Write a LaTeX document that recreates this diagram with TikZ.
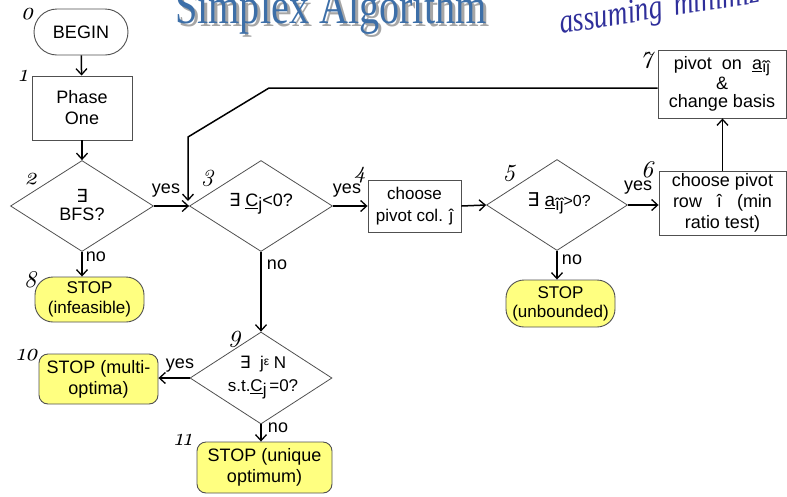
\documentclass[tikz,border=0pt]{standalone}
\usepackage{fontspec}
\setmainfont{Liberation Sans}
\newfontfamily\serifA{Liberation Serif}
\newfontfamily\dejavu{DejaVu Sans}
\newfontfamily\numfont{lmroman10-italic}[Extension=.otf,Numbers=OldStyle]
\usetikzlibrary{shapes.geometric,arrows.meta}
\definecolor{stopyellow}{HTML}{FFFF80}
\definecolor{titleblue}{HTML}{3D6FA8}
\definecolor{subblue}{HTML}{2E2E9A}
\definecolor{edgegray}{HTML}{505050}
\newcommand{\ex}{{\dejavu ∃}}
\tikzset{
 txtbase/.style={font=\fontsize{18}{21}\selectfont, align=center, inner sep=0pt},
 box/.style={txtbase, draw=edgegray, line width=0.9pt, fill=white},
 stopbox/.style={box, fill=stopyellow, rounded corners=#1},
 stopbox/.default=10pt,
 dia/.style={draw=edgegray, line width=0.8pt, shape=diamond, inner sep=0pt},
 num/.style={font=\fontsize{24}{24}\selectfont\numfont, inner sep=0pt},
 conn/.style={line width=1.5pt, -{Straight Barb[length=6pt,width=11pt,line width=1.3pt]}},
}
\begin{document}
\begin{tikzpicture}[x=1pt,y=-1pt]
\useasboundingbox (0,0) rectangle (787,496);
\clip (0,0) rectangle (787,496);
% title
\node[anchor=base west, inner sep=0pt, text=black!35, font=\fontsize{39}{39}\selectfont\serifA] (titleshadow) at (178,26) {\scalebox{1.03}[1.3]{Simplex Algorithm}};
\node[anchor=base west, inner sep=0pt, text=titleblue, font=\fontsize{39}{39}\selectfont\serifA] (title) at (175,23) {\scalebox{1.03}[1.3]{Simplex Algorithm}};
\node[anchor=base west, inner sep=0pt, rotate=9, text=subblue, font=\fontsize{29}{29}\selectfont\serifA\itshape] (subtitle) at (561,34) {\scalebox{0.95}[1.2]{assuming\, minimiz}};
% nodes
\node[box, rounded corners=23pt, minimum width=94, minimum height=46] (b0) at (81,32) {BEGIN};
\node[box, minimum width=100, minimum height=64] (b1) at (82,108) {Phase\\One};
\node[dia, minimum width=143, minimum height=91] (d2) at (82,206) {};
\node[txtbase, font=\fontsize{18}{18}\selectfont] (d2t) at (82,205) {\ex\\BFS?};
\node[dia, minimum width=143, minimum height=91] (d3) at (261,206) {};
\node[txtbase] (d3t) at (261,204) {\ex\ \underline{C}\raisebox{-4pt}{j}<0?};
\node[box, minimum width=93, minimum height=52, font=\fontsize{17}{22}\selectfont] (b4) at (414.5,206) {choose\\pivot col. ĵ};
\node[dia, minimum width=141, minimum height=91] (d5) at (557,205) {};
\node[txtbase, font=\fontsize{19}{21}\selectfont] (d5t) at (559,203) {\ex\ \underline{a}\raisebox{-4pt}{\fontsize{17}{17}\selectfont îĵ}{\fontsize{16}{16}\selectfont >0?}};
\node[box, minimum width=127, minimum height=64] (b6) at (722.5,203) {choose pivot\\row\ \ \ î\ \ \ (min\\ratio test)};
\node[box, minimum width=128, minimum height=68, font=\fontsize{18}{18.5}\selectfont] (b7) at (722,84) {pivot\ \ on\ \ \underline{a}\raisebox{-3pt}{\fontsize{16}{16}\selectfont îĵ}\\\&\\change basis};
\node[stopbox=18pt, minimum width=109, minimum height=45, font=\fontsize{17}{20}\selectfont] (b8) at (89.5,299.5) {STOP\\(infeasible)};
\node[stopbox=18pt, minimum width=109, minimum height=47, font=\fontsize{17}{19}\selectfont] (bu) at (560.5,303.5) {STOP\\(unbounded)};
\node[dia, minimum width=142, minimum height=92] (d9) at (261,378) {};
\node[txtbase, font=\fontsize{17}{23}\selectfont] (d9t) at (263,378) {\ex\ \ j{\fontsize{12}{12}\selectfont\raisebox{3pt}{ε}} N\\s.t.\underline{C}\raisebox{-4pt}{j}\,=0?};
\node[stopbox=9pt, minimum width=119, minimum height=50] (b10) at (98.5,379) {STOP (multi-\\optima)};
\node[stopbox=9pt, minimum width=135, minimum height=51] (b11) at (264.5,467.5) {STOP (unique\\optimum)};
% step numbers
\node[num] (n0) at (27,14) {\oldstylenums{0}};
\node[num] (n1) at (23,76) {\oldstylenums{1}};
\node[num] (n2) at (31,179) {\oldstylenums{2}};
\node[num] (n3) at (208,178) {\oldstylenums{3}};
\node[num] (n4) at (360,175) {\oldstylenums{4}};
\node[num] (n5) at (510,173) {\oldstylenums{5}};
\node[num] (n6) at (647,170) {\oldstylenums{6}};
\node[num] (n7) at (647,60) {\oldstylenums{7}};
\node[num] (n8) at (30,280) {\oldstylenums{8}};
\node[num] (n9) at (235,339) {\oldstylenums{9}};
\node[num] (n10) at (27,355) {\oldstylenums{10}};
\node[num] (n11) at (183,440) {\oldstylenums{11}};
% branch labels
\node[txtbase] (y2) at (166,191) {yes};
\node[txtbase] (y3) at (347,191) {yes};
\node[txtbase] (y5) at (638,188) {yes};
\node[txtbase] (y9) at (180,366) {yes};
\node[txtbase] (no2) at (96,257) {no};
\node[txtbase] (no3) at (277,265) {no};
\node[txtbase] (no5) at (572,260) {no};
\node[txtbase] (no9) at (278,428) {no};
% connectors
\draw[conn] (b0) -- (b1);
\draw[conn] (b1) -- (d2);
\draw[conn] (d2.east) -- (d3.west);
\draw[conn] (d3.east) -- (b4.west);
\draw[conn] (b4.east) -- (d5.west);
\draw[conn] (d5.east) -- (d5.east -| b6.west);
\draw[conn] (b6.north) -- (b6.north |- b7.south);
\draw[conn] (d2.south) -- (d2.south |- b8.north);
\draw[conn] (d5.south) -- (d5.south |- bu.north);
\draw[conn] (d3.south) -- (d9.north);
\draw[conn] (d9.west) -- (d9.west -| b10.east);
\draw[conn] (d9.south) -- (d9.south |- b11.north);
\coordinate (k1) at (269,88);
\coordinate (k2) at (188,137);
\coordinate (k3) at (188,201);
\draw[conn] (b7.west |- k1) -- (k1) -- (k2) -- (k3);
\end{tikzpicture}
\end{document}
